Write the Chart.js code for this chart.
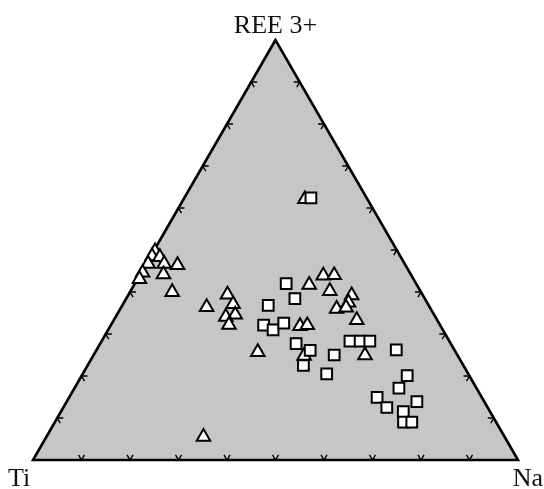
<!DOCTYPE html>
<html>
<head>
<meta charset="utf-8">
<script src="https://cdn.jsdelivr.net/npm/chart.js@4/dist/chart.umd.min.js"></script>
<style>
  body { margin: 0; background: #fff; }
  #wrap { width: 544px; height: 489px; position: relative; }
</style>
</head>
<body>
<div id="wrap"><canvas id="myChart"></canvas></div>
<script>
// compositions in % : REE3+, Ti, Na
const triREE = [62.1, 49.7, 48.5, 48.3, 46.7, 46.4, 46.7, 44.6, 44.2, 43.1, 40.0, 36.4, 39.4, 37.1, 34.6, 34.1,
                32.2, 25.7, 43.9, 44.0, 41.7, 40.2, 39.2, 37.5, 36.0, 36.3, 33.3, 31.9, 32.1, 24.8, 24.9, 5.5];
const triTi  = [12.9, 50.0, 51.2, 49.7, 49.6, 47.0, 52.9, 55.1, 51.0, 56.5, 51.3, 46.0, 40.2, 40.2, 41.0, 43.2,
                43.5, 40.8, 18.2, 15.9, 22.2, 18.7, 14.7, 16.2, 19.4, 17.3, 16.6, 29.0, 27.4, 31.7, 19.1, 62.1];
const triNa  = [25.0, 0.3, 0.3, 2.0, 3.7, 6.6, 0.4, 0.3, 4.8, 0.4, 8.7, 17.6, 20.4, 22.7, 24.4, 22.7,
                24.3, 33.5, 37.9, 40.1, 36.1, 41.1, 46.1, 46.3, 44.6, 46.4, 50.1, 39.1, 40.5, 43.5, 56.0, 32.4];

const sqREE = [62.4, 42.0, 38.4, 36.8, 32.1, 31.0, 32.6, 27.7, 26.1, 22.5, 25.0, 20.5, 28.3, 28.3, 28.3, 26.2,
               20.1, 17.1, 14.9, 12.5, 13.9, 11.5, 9.0, 9.0];
const sqTi  = [11.5, 26.8, 26.8, 33.1, 36.4, 35.0, 32.0, 31.9, 29.8, 33.0, 25.4, 29.2, 20.5, 18.4, 16.4, 12.0,
               12.8, 16.0, 21.6, 20.8, 13.9, 17.9, 19.1, 17.4];
const sqNa  = [26.1, 31.2, 34.8, 30.1, 31.5, 34.0, 35.4, 40.4, 44.1, 44.5, 49.6, 50.3, 51.2, 53.3, 55.3, 61.8,
               67.1, 66.9, 63.5, 66.7, 72.2, 70.6, 71.9, 73.6];

const cornerLabels = ['REE 3+', 'Ti', 'Na'];
const tickSteps = [10, 20, 30, 40, 50, 60, 70, 80, 90];

const H = Math.sqrt(3) / 2;

// ternary -> cartesian, side length 100
function toXY(ree, ti, na) {
  const s = ree + ti + na;
  const r = ree / s * 100, n = na / s * 100;
  return { x: n + r / 2, y: r * H };
}

const triPoints = triREE.map((r, i) => toXY(r, triTi[i], triNa[i]));
const sqPoints = sqREE.map((r, i) => toXY(r, sqTi[i], sqNa[i]));

// grey triangle, edge ticks and corner names
const ternaryFrame = {
  id: 'ternaryFrame',
  beforeDatasetsDraw(chart) {
    const ctx = chart.ctx;
    const xs = chart.scales.x, ys = chart.scales.y;
    const px = (ree, na) => {
      const p = toXY(ree, 100 - ree - na, na);
      return [xs.getPixelForValue(p.x), ys.getPixelForValue(p.y)];
    };
    const top = px(100, 0), left = px(0, 0), right = px(0, 100);

    ctx.save();
    ctx.beginPath();
    ctx.moveTo(top[0], top[1]);
    ctx.lineTo(left[0], left[1]);
    ctx.lineTo(right[0], right[1]);
    ctx.closePath();
    ctx.fillStyle = '#c6c6c6';
    ctx.fill();

    // chevron ticks, arms run along the grid directions
    const L = 6;
    ctx.strokeStyle = '#000';
    ctx.lineWidth = 1.4;
    const chevron = (p, a, b) => {
      ctx.beginPath();
      ctx.moveTo(p[0] + a[0] * L, p[1] + a[1] * L);
      ctx.lineTo(p[0], p[1]);
      ctx.lineTo(p[0] + b[0] * L, p[1] + b[1] * L);
      ctx.stroke();
    };
    tickSteps.forEach(t => {
      chevron(px(0, t), [-0.5, -H], [0.5, -H]);      // Ti - Na edge
      chevron(px(t, 0), [1, 0], [0.5, H]);           // Ti - REE edge
      chevron(px(t, 100 - t), [-1, 0], [-0.5, H]);   // Na - REE edge
    });

    ctx.beginPath();
    ctx.moveTo(top[0], top[1]);
    ctx.lineTo(left[0], left[1]);
    ctx.lineTo(right[0], right[1]);
    ctx.closePath();
    ctx.lineWidth = 2.6;
    ctx.lineJoin = 'miter';
    ctx.stroke();

    ctx.fillStyle = '#111';
    ctx.font = '26px "Liberation Serif", "Times New Roman", serif';
    ctx.textBaseline = 'alphabetic';
    ctx.textAlign = 'center';
    ctx.fillText(cornerLabels[0], top[0], top[1] - 7);
    ctx.textAlign = 'left';
    ctx.fillText(cornerLabels[1], left[0] - 25, left[1] + 26);
    ctx.textAlign = 'right';
    ctx.fillText(cornerLabels[2], right[0] + 25, right[1] + 26);
    ctx.restore();
  }
};

const ctx = document.getElementById('myChart').getContext('2d');
const myChart = new Chart(ctx, {
  type: 'scatter',
  data: {
    datasets: [
      {
        label: 'squares',
        data: sqPoints,
        pointStyle: 'rect',
        pointRadius: 7.6,
        borderWidth: 2,
        borderColor: '#000',
        backgroundColor: '#fff',
        clip: false
      },
      {
        label: 'triangles',
        data: triPoints,
        pointStyle: 'triangle',
        pointRadius: 7.8,
        borderWidth: 2,
        borderColor: '#000',
        backgroundColor: '#fff',
        clip: false
      }
    ]
  },
  options: {
    responsive: true,
    maintainAspectRatio: false,
    animation: false,
    layout: { padding: { left: 33, right: 26, top: 40, bottom: 29 } },
    scales: {
      x: { type: 'linear', min: 0, max: 100, display: false },
      y: { type: 'linear', min: 0, max: 100 * H, display: false }
    },
    plugins: {
      legend: { display: false },
      tooltip: { enabled: false }
    }
  },
  plugins: [ternaryFrame]
});
</script>
</body>
</html>
